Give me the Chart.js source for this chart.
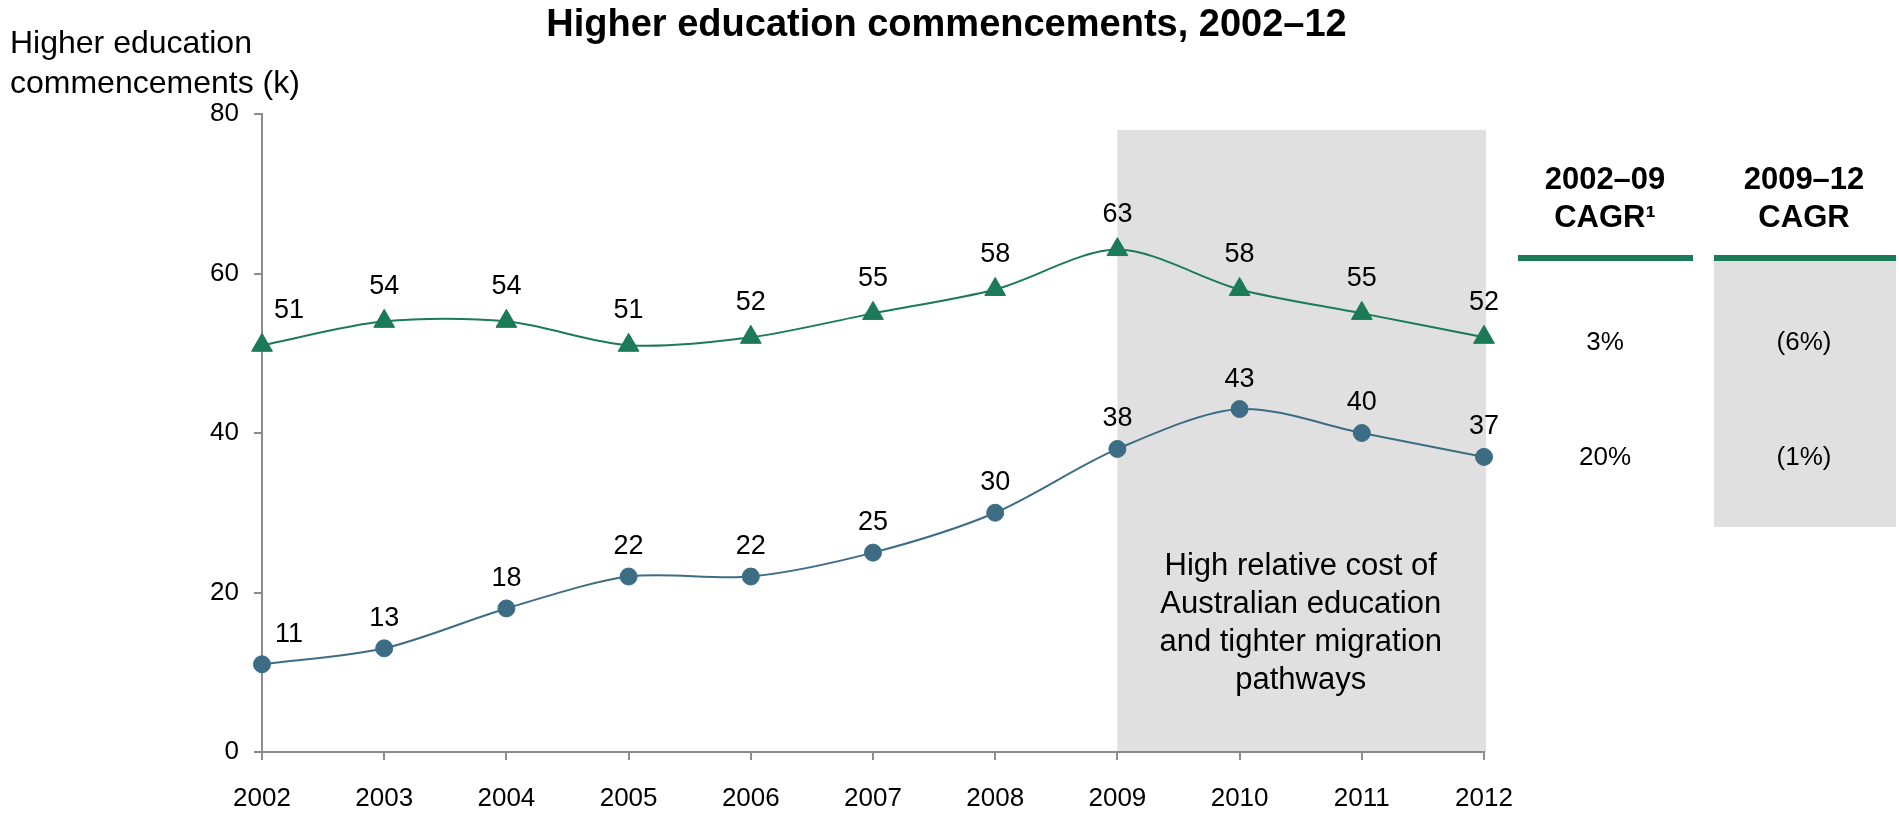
<!DOCTYPE html>
<html>
<head>
<meta charset="utf-8">
<title>Higher education commencements, 2002–12</title>
<script src="https://cdn.jsdelivr.net/npm/chart.js@4.4.1/dist/chart.umd.min.js"></script>
<style>
  body { margin: 0; background: #fff; }
  #wrap { width: 1899px; height: 813px; position: relative; }
</style>
</head>
<body>
<div id="wrap"><canvas id="commencements"></canvas></div>
<script>
// data
const years = ['2002', '2003', '2004', '2005', '2006', '2007', '2008', '2009', '2010', '2011', '2012'];
const upperSeries = [51, 54, 54, 51, 52, 55, 58, 63, 58, 55, 52];
const lowerSeries = [11, 13, 18, 22, 22, 25, 30, 38, 43, 40, 37];
const yTicks = [0, 20, 40, 60, 80];

const cagrHeads = [['2002–09', 'CAGR¹'], ['2009–12', 'CAGR']];
const cagrEarly = ['3%', '20%'];
const cagrLate = ['(6%)', '(1%)'];

const chartTitle = 'Higher education commencements, 2002–12';
const yTitle = ['Higher education', 'commencements (k)'];
const noteLines = ['High relative cost of', 'Australian education', 'and tighter migration', 'pathways'];
const bandFrom = '2009';
const bandTo = '2012';
const bandTop = 78;

// styling
const FONT = "'Liberation Sans', Arial, Helvetica, sans-serif";
const GREEN = '#1b7a58';
const BLUE = '#3c6d84';
const SHADE = '#e0e0e0';
const AXIS = '#8c8c8c';

// shaded 2009-12 band, its note, chart title, y title and the CAGR side panel
const backdrop = {
  id: 'backdrop',
  beforeDraw(chart) {
    const { ctx, chartArea: area, scales: { x, y } } = chart;
    ctx.save();

    const x0 = x.getPixelForValue(years.indexOf(bandFrom));
    const x1 = x.getPixelForValue(years.indexOf(bandTo));
    const top = y.getPixelForValue(bandTop);
    ctx.fillStyle = SHADE;
    ctx.fillRect(x0, top, x1 - x0 + 2, area.bottom - top);

    ctx.fillStyle = '#000';
    ctx.textAlign = 'center';
    ctx.textBaseline = 'alphabetic';
    ctx.font = `31px ${FONT}`;
    noteLines.forEach((t, i) => ctx.fillText(t, (x0 + x1) / 2, area.bottom - 177 + i * 38));

    ctx.font = `bold 38px ${FONT}`;
    ctx.fillText(chartTitle, chart.width / 2 - 3, 36);

    ctx.textAlign = 'left';
    ctx.font = `32px ${FONT}`;
    yTitle.forEach((t, i) => ctx.fillText(t, 10, 53 + i * 40));

    // side panel
    const cols = [area.right + 121, area.right + 320];
    const bars = [[area.right + 34, area.right + 209], [area.right + 230, area.right + 412]];
    ctx.fillStyle = SHADE;
    ctx.fillRect(bars[1][0], 258, bars[1][1] - bars[1][0], 269);
    ctx.fillStyle = GREEN;
    bars.forEach(([a, b]) => ctx.fillRect(a, 255, b - a, 6));

    ctx.fillStyle = '#000';
    ctx.textAlign = 'center';
    ctx.font = `bold 31px ${FONT}`;
    cagrHeads.forEach((lines, c) => {
      lines.forEach((t, i) => ctx.fillText(t, cols[c], 189 + i * 38));
    });

    ctx.font = `26px ${FONT}`;
    ctx.textBaseline = 'middle';
    const rows = [upperSeries, lowerSeries].map(s => y.getPixelForValue(s[s.length - 1]));
    rows.forEach((ry, r) => {
      const dy = r === 0 ? 6 : 1;
      ctx.fillText(cagrEarly[r], cols[0], ry + dy);
      ctx.fillText(cagrLate[r], cols[1], ry + dy);
    });
    ctx.restore();
  }
};

// value labels above each point; the first year is nudged right of the axis
const valueLabels = {
  id: 'valueLabels',
  afterDatasetsDraw(chart) {
    const { ctx } = chart;
    ctx.save();
    ctx.font = `27px ${FONT}`;
    ctx.fillStyle = '#000';
    ctx.textAlign = 'center';
    ctx.textBaseline = 'middle';
    chart.data.datasets.forEach((ds, di) => {
      chart.getDatasetMeta(di).data.forEach((pt, i) => {
        const dx = i === 0 ? 27 : 0;
        ctx.fillText(String(ds.data[i]), pt.x + dx, pt.y - ds.labelLift);
      });
    });
    ctx.restore();
  }
};

new Chart(document.getElementById('commencements'), {
  type: 'line',
  data: {
    labels: years,
    datasets: [{
      data: upperSeries,
      borderColor: GREEN,
      backgroundColor: GREEN,
      borderWidth: 2,
      pointStyle: 'triangle',
      pointRadius: 12,
      pointBorderWidth: 1,
      tension: 0.3,
      clip: false,
      labelLift: 35
    }, {
      data: lowerSeries,
      borderColor: BLUE,
      backgroundColor: BLUE,
      borderWidth: 2,
      pointStyle: 'circle',
      pointRadius: 8.5,
      pointBorderWidth: 1,
      tension: 0.3,
      clip: false,
      labelLift: 30
    }]
  },
  options: {
    responsive: true,
    maintainAspectRatio: false,
    animation: false,
    layout: { padding: { left: 0, top: 114, right: 415, bottom: 0 } },
    plugins: {
      legend: { display: false },
      tooltip: { enabled: false },
      title: { display: false }
    },
    scales: {
      x: {
        offset: false,
        grid: { drawOnChartArea: false, drawTicks: true, tickLength: 8, color: AXIS, lineWidth: 2 },
        border: { color: AXIS, width: 2 },
        ticks: { color: '#000', font: { family: FONT, size: 26 }, padding: 23, autoSkip: false, maxRotation: 0 },
        afterFit(scale) { scale.height = 61; }
      },
      y: {
        min: 0,
        max: 80,
        afterBuildTicks(scale) { scale.ticks = yTicks.map(v => ({ value: v })); },
        grid: { drawOnChartArea: false, drawTicks: true, tickLength: 8, color: AXIS, lineWidth: 2 },
        border: { color: AXIS, width: 2 },
        ticks: { color: '#000', font: { family: FONT, size: 26 }, padding: 15 },
        afterFit(scale) { scale.width = 262; }
      }
    }
  },
  plugins: [backdrop, valueLabels]
});
</script>
</body>
</html>
